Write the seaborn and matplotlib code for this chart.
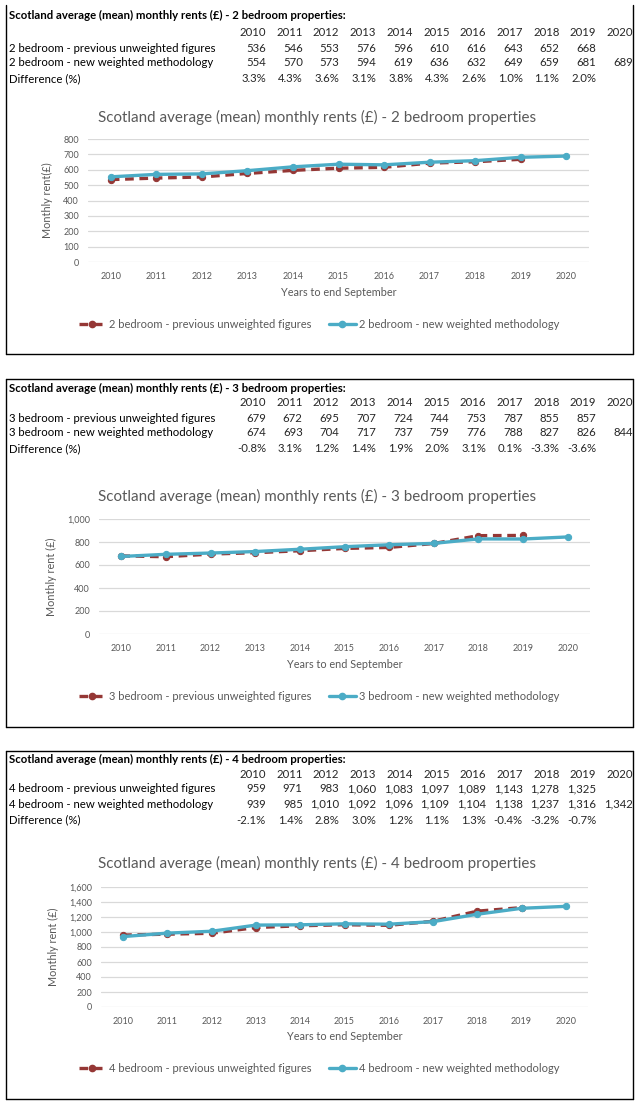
import numpy as np
import pandas as pd
import matplotlib
matplotlib.use("Agg")
import matplotlib.pyplot as plt
from matplotlib.lines import Line2D
from matplotlib.ticker import FuncFormatter, MultipleLocator
import seaborn as sns

# ---------------- data ----------------
years = [2010, 2011, 2012, 2013, 2014, 2015, 2016, 2017, 2018, 2019, 2020]

prev_2bed = [536, 546, 553, 576, 596, 610, 616, 643, 652, 668, np.nan]
new_2bed = [554, 570, 573, 594, 619, 636, 632, 649, 659, 681, 689]
diff_2bed = [3.3, 4.3, 3.6, 3.1, 3.8, 4.3, 2.6, 1.0, 1.1, 2.0]

prev_3bed = [679, 672, 695, 707, 724, 744, 753, 787, 855, 857, np.nan]
new_3bed = [674, 693, 704, 717, 737, 759, 776, 788, 827, 826, 844]
diff_3bed = [-0.8, 3.1, 1.2, 1.4, 1.9, 2.0, 3.1, 0.1, -3.3, -3.6]

prev_4bed = [959, 971, 983, 1060, 1083, 1097, 1089, 1143, 1278, 1325, np.nan]
new_4bed = [939, 985, 1010, 1092, 1096, 1109, 1104, 1138, 1237, 1316, 1342]
diff_4bed = [-2.1, 1.4, 2.8, 3.0, 1.2, 1.1, 1.3, -0.4, -3.2, -0.7]

bedrooms = ["2", "3", "4"]
ylabels = ["Monthly rent(\u00a3)", "Monthly rent (\u00a3)", "Monthly rent (\u00a3)"]
y_max = [800, 1000, 1600]
y_step = [100, 200, 200]

# ---------------- style ----------------
sns.set_theme(style="white")
plt.rcParams["font.family"] = ["Lato", "DejaVu Sans"]

RED = "#953735"
TEAL = "#4BACC6"
GRID = "#D9D9D9"
GREY = "#595959"
LW = 2.4
MS = 4.5
DASH = (0, (2.6, 1.7))

W, H = 638, 1104
fig = plt.figure(figsize=(W / 100, H / 100), dpi=100)
fig.patch.set_facecolor("white")


def fx(px):
    return px / W


def fy(py):
    return 1 - py / H


def fline(x0, y0, x1, y1):
    fig.add_artist(Line2D([fx(x0), fx(x1)], [fy(y0), fy(y1)], color="black",
                          lw=1.0, transform=fig.transFigure))


# layout per panel (pixel positions)
panels = [
    dict(box=(6, 5, 633, 354), top_line=False, rows=(15, 33, 48, 63, 79),
         ax=(88, 589, 139, 262), title_y=117, ylab_x=53, xlab_y=293, leg_y=324),
    dict(box=(6, 379, 633, 727), top_line=True, rows=(388, 403, 418, 433, 449),
         ax=(99, 590, 519, 634), title_y=496, ylab_x=57, xlab_y=665, leg_y=696),
    dict(box=(6, 751, 633, 1099), top_line=True, rows=(759, 774, 789, 804, 820),
         ax=(101, 588, 887, 1007), title_y=863, ylab_x=59, xlab_y=1037, leg_y=1068),
]

prev_all = [prev_2bed, prev_3bed, prev_4bed]
new_all = [new_2bed, new_3bed, new_4bed]
diff_all = [diff_2bed, diff_3bed, diff_4bed]

TFS = 8.2  # table font size


def fmt_val(v):
    if v is None or (isinstance(v, float) and np.isnan(v)):
        return ""
    return f"{int(round(v)):,}"


for i, p in enumerate(panels):
    b = bedrooms[i]
    x0, y0, x1, y1 = p["box"]
    # box
    if p["top_line"]:
        fline(x0, y0, x1, y0)
    fline(x0, y0, x0, y1)
    fline(x1, y0, x1, y1)
    fline(x0, y1, x1, y1)

    # ---------- table ----------
    r_title, r_head, r_prev, r_new, r_diff = p["rows"]
    fig.text(fx(9), fy(r_title),
             f"Scotland average (mean) monthly rents (\u00a3) - {b} bedroom properties:",
             fontsize=TFS, fontweight="bold", color="black", ha="left", va="center")
    fig.text(fx(9), fy(r_prev), f"{b} bedroom - previous unweighted figures",
             fontsize=TFS, color="black", ha="left", va="center")
    fig.text(fx(9), fy(r_new), f"{b} bedroom - new weighted methodology",
             fontsize=TFS, color="black", ha="left", va="center")
    fig.text(fx(9), fy(r_diff), "Difference (%)",
             fontsize=TFS, color="black", ha="left", va="center")
    for j, yr in enumerate(years):
        xr = fx(266 + 36.7 * j)
        fig.text(xr, fy(r_head), str(yr), fontsize=TFS, ha="right", va="center")
        fig.text(xr, fy(r_prev), fmt_val(prev_all[i][j]), fontsize=TFS, ha="right", va="center")
        fig.text(xr, fy(r_new), fmt_val(new_all[i][j]), fontsize=TFS, ha="right", va="center")
        if j < len(diff_all[i]):
            fig.text(xr, fy(r_diff), f"{diff_all[i][j]:.1f}%", fontsize=TFS,
                     ha="right", va="center")

    # ---------- chart ----------
    ax_l, ax_r, ax_t, ax_b = p["ax"]
    ax = fig.add_axes([fx(ax_l), fy(ax_b), (ax_r - ax_l) / W, (ax_b - ax_t) / H])
    df = pd.DataFrame({"Year": years, "prev": prev_all[i], "new": new_all[i]})
    lab_prev = f"{b} bedroom - previous unweighted figures"
    lab_new = f"{b} bedroom - new weighted methodology"
    sns.lineplot(data=df, x="Year", y="prev", ax=ax, color=RED, lw=LW,
                 linestyle=DASH, marker="o", markersize=MS,
                 markeredgecolor=RED, label=lab_prev, legend=False)
    sns.lineplot(data=df, x="Year", y="new", ax=ax, color=TEAL, lw=LW,
                 marker="o", markersize=MS, markeredgecolor=TEAL,
                 label=lab_new, legend=False)
    ax.set_xlim(years[0] - 0.5, years[-1] + 0.5)
    ax.set_ylim(0, y_max[i])
    ax.yaxis.set_major_locator(MultipleLocator(y_step[i]))
    ax.yaxis.set_major_formatter(FuncFormatter(lambda v, _: f"{int(v):,}"))
    ax.set_xticks(years)
    ax.set_xticklabels([str(y) for y in years])
    for s in ax.spines.values():
        s.set_visible(False)
    ax.grid(axis="y", color=GRID, lw=0.9)
    ax.grid(axis="x", visible=False)
    ax.set_axisbelow(True)
    ax.tick_params(axis="both", length=0, labelsize=6.5, labelcolor=GREY)
    ax.tick_params(axis="y", pad=6.5)
    ax.tick_params(axis="x", pad=7)
    ax.set_facecolor("none")

    ax.set_ylabel(ylabels[i], fontsize=7.8, color=GREY)
    ax.yaxis.set_label_coords(fx(p["ylab_x"]), fy((ax_t + ax_b) / 2),
                              transform=fig.transFigure)
    ax.set_xlabel("Years to end September", fontsize=7.8, color=GREY)
    ax.xaxis.set_label_coords(fx((ax_l + ax_r) / 2), fy(p["xlab_y"]),
                              transform=fig.transFigure)
    ax.xaxis.label.set_va("center")

    fig.text(fx(317), fy(p["title_y"]),
             f"Scotland average (mean) monthly rents (\u00a3) - {b} bedroom properties",
             fontsize=10.9, color=GREY, ha="center", va="center")

    h1 = Line2D([], [], color=RED, lw=LW, linestyle=DASH,
                marker="o", markersize=MS)
    h2 = Line2D([], [], color=TEAL, lw=LW, marker="o", markersize=MS)
    fig.legend([h1, h2], [lab_prev, lab_new], loc="center",
               bbox_to_anchor=(fx(319), fy(p["leg_y"])), ncol=2, frameon=False,
               fontsize=8.0, handlelength=2.4, handletextpad=0.3,
               columnspacing=1.6, labelcolor=GREY, borderaxespad=0,
               borderpad=0)

fig.savefig("out.png", dpi=100, facecolor="white")
